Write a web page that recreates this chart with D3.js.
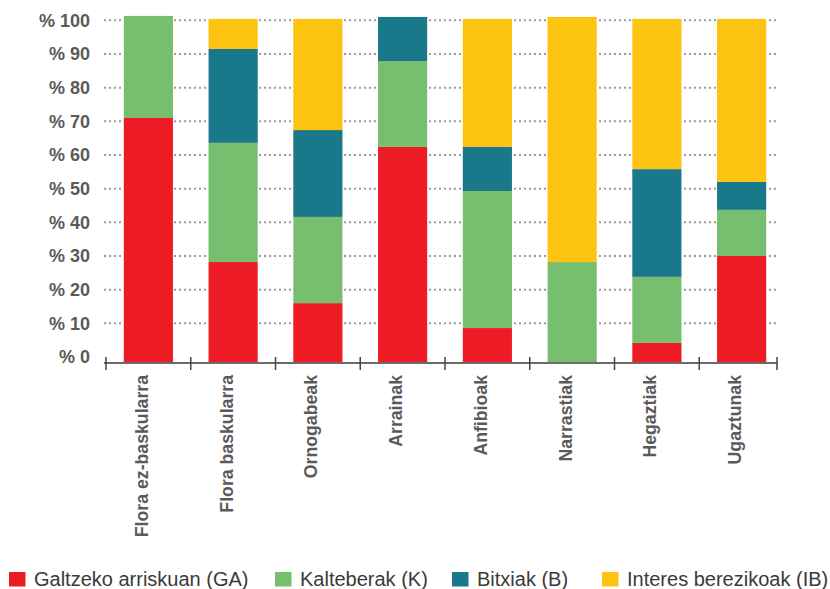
<!DOCTYPE html>
<html>
<head>
<meta charset="utf-8">
<script src="https://cdn.jsdelivr.net/npm/d3@7"></script>
<style>
  body { margin: 0; background: #fff; }
  svg { display: block; font-family: 'Liberation Sans', Arial, sans-serif; }
</style>
</head>
<body>
<svg width="830" height="589"></svg>
<script>
const categories = ['Flora ez-baskularra', 'Flora baskularra', 'Ornogabeak', 'Arrainak',
  'Anfibioak', 'Narrastiak', 'Hegaztiak', 'Ugaztunak'];
const seriesKeys = ['GA', 'K', 'B', 'IB'];
const seriesNames = ['Galtzeko arriskuan (GA)', 'Kalteberak (K)', 'Bitxiak (B)', 'Interes berezikoak (IB)'];
const colors = ['#ed1c24', '#77be6f', '#1a788b', '#fdc311'];

// percentages
const GA = [71, 28.2, 16, 62.4, 8.6, 0, 4.2, 30];
const K = [30.3, 35.4, 25.6, 25.5, 40.7, 28.2, 19.6, 13.7];
const B = [0, 27.9, 25.8, 13.1, 13.1, 0, 32, 8.3];
const IB = [0, 8.9, 33, 0, 38, 72.8, 44.6, 48.4];
const yTicks = [0, 10, 20, 30, 40, 50, 60, 70, 80, 90, 100];

const rows = categories.map((c, i) => ({ cat: c, GA: GA[i], K: K[i], B: B[i], IB: IB[i] }));

const svg = d3.select('svg');

const x = d3.scaleBand()
  .domain(categories)
  .range([106, 784])
  .paddingInner(0.42)
  .paddingOuter(0.21);

const y = d3.scaleLinear()
  .domain([0, 100])
  .range([357, 20.3]);

const axisY = 363, gridLeft = 104, gridRight = 779;

// dotted gridlines
svg.append('g')
  .selectAll('line')
  .data(yTicks.filter(d => d > 0))
  .enter()
  .append('line')
  .attr('x1', gridLeft)
  .attr('x2', gridRight)
  .attr('y1', d => y(d))
  .attr('y2', d => y(d))
  .style('stroke', '#9b9b9b')
  .style('stroke-width', 2)
  .style('stroke-dasharray', '2,3');

// y labels
svg.append('g')
  .selectAll('text')
  .data(yTicks)
  .enter()
  .append('text')
  .attr('x', 90)
  .attr('y', d => y(d))
  .attr('dy', '0.36em')
  .attr('text-anchor', 'end')
  .style('font-size', '18px')
  .style('font-weight', 'bold')
  .style('fill', '#5a5a5a')
  .text(d => '% ' + d);

// stacked bars
const stacked = d3.stack().keys(seriesKeys)(rows);

svg.append('g')
  .selectAll('g')
  .data(stacked)
  .enter()
  .append('g')
  .style('fill', (d, i) => colors[i])
  .selectAll('rect')
  .data(d => d.filter(s => s[1] - s[0] > 0))
  .enter()
  .append('rect')
  .attr('x', d => x(d.data.cat))
  .attr('width', x.bandwidth())
  .attr('y', d => y(d[1]))
  .attr('height', d => (d[0] === 0 ? axisY : y(d[0])) - y(d[1]));

// x axis line and ticks
const step = x.step();
const bounds = categories.map(c => x(c) - step * x.paddingInner() / 2);
bounds.push(x(categories[categories.length - 1]) + x.bandwidth() + step * x.paddingInner() / 2);
const tickX = bounds.map(b => Math.max(gridLeft, Math.min(gridRight - 2, b)));

svg.append('line')
  .attr('x1', gridLeft)
  .attr('x2', gridRight - 2)
  .attr('y1', axisY)
  .attr('y2', axisY)
  .style('stroke', '#6b6b6b')
  .style('stroke-width', 2);

svg.append('g')
  .selectAll('line')
  .data(tickX)
  .enter()
  .append('line')
  .attr('x1', d => d)
  .attr('x2', d => d)
  .attr('y1', axisY - 6)
  .attr('y2', axisY + 7)
  .style('stroke', '#444')
  .style('stroke-width', 1.5);

// category labels
svg.append('g')
  .selectAll('text')
  .data(categories)
  .enter()
  .append('text')
  .attr('transform', d => `translate(${x(d) + x.bandwidth() / 2 - 7},375) rotate(-90)`)
  .attr('dy', '0.36em')
  .attr('text-anchor', 'end')
  .style('font-size', '17.7px')
  .style('font-weight', 'bold')
  .style('fill', '#5a5a5a')
  .text(d => d);

// legend
const legendX = [9, 275, 452, 602];
const legend = svg.append('g')
  .selectAll('g')
  .data(seriesNames)
  .enter()
  .append('g')
  .attr('transform', (d, i) => `translate(${legendX[i]},572)`);

legend.append('rect')
  .attr('width', 16.5)
  .attr('height', 14.5)
  .style('fill', (d, i) => colors[i]);

legend.append('text')
  .attr('x', 25)
  .attr('y', 14)
  .style('font-size', '20px')
  .style('fill', '#3a3a3a')
  .text(d => d);
</script>
</body>
</html>
